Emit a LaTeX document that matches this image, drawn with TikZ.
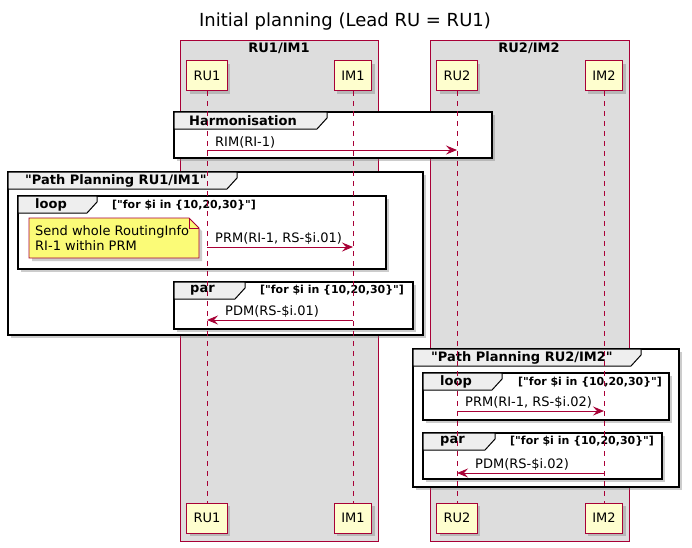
\documentclass[tikz,border=0pt]{standalone}
\usepackage{fontspec}
\setmainfont{DejaVu Sans}
\usetikzlibrary{shadows,arrows.meta}

\definecolor{umlred}{HTML}{A80036}
\definecolor{partfill}{HTML}{FEFECE}
\definecolor{boxfill}{HTML}{DDDDDD}
\definecolor{headfill}{HTML}{EEEEEE}
\definecolor{notefill}{HTML}{FBFB77}

\tikzset{
  shade3/.style={drop shadow={shadow xshift=3pt, shadow yshift=-3pt, opacity=.4}},
  part/.style={draw=umlred, fill=partfill, line width=1pt, minimum height=30pt,
    inner xsep=7pt, font=\fontsize{13}{15}\selectfont, shade3},
  umlbox/.style={draw=umlred, fill=boxfill, line width=.8pt},
  boxlabel/.style={font=\bfseries\fontsize{13}{15}\selectfont, inner sep=0pt},
  life/.style={draw=umlred, line width=.8pt, dash pattern=on 5pt off 5pt},
  msg/.style={draw=umlred, line width=1pt, -{Stealth[length=11pt,width=9pt,inset=4pt]}},
  msglabel/.style={font=\fontsize{13}{15}\selectfont, anchor=south west, inner xsep=0pt, inner ysep=2pt},
  frame/.style={draw=black, line width=1.6pt, fill=white, shade3},
  tab/.style={draw=black, line width=1pt, fill=headfill},
  grplabel/.style={font=\bfseries\fontsize{13}{15}\selectfont, anchor=west, inner sep=0pt},
  cond/.style={font=\bfseries\fontsize{11}{13}\selectfont, anchor=west, inner sep=0pt},
  note/.style={draw=umlred, fill=notefill, line width=.8pt, shade3},
}

\begin{document}
\begin{tikzpicture}[x=1pt,y=-1pt]
    \useasboundingbox (0,0) rectangle (692,547);
    % Title
    \node[font=\fontsize{18}{21}\selectfont] (title) at (345,22) {Initial planning (Lead RU = RU1)};
    % Boxes
    \draw[umlbox] (180,40) rectangle (378,541);
    \node[boxlabel] (box1) at (279,48) {RU1/IM1};
    \draw[umlbox] (430,40) rectangle (629,541);
    \node[boxlabel] (box2) at (529,48) {RU2/IM2};
    % Participants
    \node[part] (ru1top) at (207,75.5) {RU1};
    \node[part] (im1top) at (353,75.5) {IM1};
    \node[part] (ru2top) at (457,75.5) {RU2};
    \node[part] (im2top) at (604,75.5) {IM2};
    \node[part] (ru1bot) at (207,518) {RU1};
    \node[part] (im1bot) at (353,518) {IM1};
    \node[part] (ru2bot) at (457,518) {RU2};
    \node[part] (im2bot) at (604,518) {IM2};
    % Group: Harmonisation
    \draw[frame] (174,112) rectangle (492,158);
    \draw[tab] (174,112) -- (327,112) -- (327,118) -- (317,129) -- (174,129) -- cycle;
    \node[grplabel] (harm) at (189,120.5) {Harmonisation};
    % Group: Path Planning RU1/IM1
    \draw[frame] (8,172) rectangle (423,335);
    \draw[tab] (8,172) -- (237,172) -- (237,178) -- (227,189) -- (8,189) -- cycle;
    \node[grplabel] (pp1) at (25,180.5) {\textquotedbl Path Planning RU1/IM1\textquotedbl};
    % loop
    \draw[frame] (18,196) rectangle (386,269);
    \draw[tab] (18,196) -- (97,196) -- (97,202) -- (87,213) -- (18,213) -- cycle;
    \node[grplabel] (loop1) at (35,204.5) {loop};
    \node[cond] (cond1) at (112,205) {[\textquotedbl for \$i in \{10,20,30\}\textquotedbl]};
    % par
    \draw[frame] (174,282) rectangle (413,329);
    \draw[tab] (174,282) -- (245,282) -- (245,288) -- (235,299) -- (174,299) -- cycle;
    \node[grplabel] (par1) at (190,290.5) {par};
    \node[cond] (cond2) at (260,290) {[\textquotedbl for \$i in \{10,20,30\}\textquotedbl]};
    % Group: Path Planning RU2/IM2
    \draw[frame] (413,349) rectangle (679,487);
    \draw[tab] (413,349) -- (641,349) -- (641,355) -- (631,366) -- (413,366) -- cycle;
    \node[grplabel] (pp2) at (431,357.5) {\textquotedbl Path Planning RU2/IM2\textquotedbl};
    % loop
    \draw[frame] (423,373) rectangle (669,420);
    \draw[tab] (423,373) -- (502,373) -- (502,379) -- (492,390) -- (423,390) -- cycle;
    \node[grplabel] (loop2) at (440,381.5) {loop};
    \node[cond] (cond3) at (518,382) {[\textquotedbl for \$i in \{10,20,30\}\textquotedbl]};
    % par
    \draw[frame] (423,433) rectangle (662,479);
    \draw[tab] (423,433) -- (495,433) -- (495,439) -- (485,450) -- (423,450) -- cycle;
    \node[grplabel] (par2) at (440,441.5) {par};
    \node[cond] (cond4) at (510,441) {[\textquotedbl for \$i in \{10,20,30\}\textquotedbl]};
    % Lifelines
    \draw[life] (ru1top) -- (ru1bot);
    \draw[life] (im1top) -- (im1bot);
    \draw[life] (ru2top) -- (ru2bot);
    \draw[life] (im2top) -- (im2bot);
    % Note
    \draw[note] (29,218) -- (189,218) -- (199,228) -- (199,258) -- (29,258) -- cycle;
    \draw[umlred, line width=.8pt] (189,218) -- (189,228) -- (199,228);
    \node[font=\fontsize{13}{15}\selectfont, align=left, anchor=north west, inner sep=0pt]
      (sendnote) at (35,225) {Send whole RoutingInfo\\RI-1 within PRM};
    % Messages
    \coordinate (rim-a) at (ru1top |- 0,150);
    \coordinate (rim-b) at (ru2top |- 0,150);
    \draw[msg] (rim-a) -- (rim-b);
    \node[msglabel] (rim) at ([xshift=8pt]rim-a) {RIM(RI-1)};
    \coordinate (prm1-a) at (ru1top |- 0,247);
    \coordinate (prm1-b) at (im1top |- 0,247);
    \draw[msg] (prm1-a) -- (prm1-b);
    \node[msglabel] (prm1) at ([xshift=8pt]prm1-a) {PRM(RI-1, RS-\$i.01)};
    \coordinate (pdm1-a) at (im1top |- 0,320);
    \coordinate (pdm1-b) at (ru1top |- 0,320);
    \draw[msg] (pdm1-a) -- (pdm1-b);
    \node[msglabel] (pdm1) at ([xshift=18pt]pdm1-b) {PDM(RS-\$i.01)};
    \coordinate (prm2-a) at (ru2top |- 0,411);
    \coordinate (prm2-b) at (im2top |- 0,411);
    \draw[msg] (prm2-a) -- (prm2-b);
    \node[msglabel] (prm2) at ([xshift=8pt]prm2-a) {PRM(RI-1, RS-\$i.02)};
    \coordinate (pdm2-a) at (im2top |- 0,473);
    \coordinate (pdm2-b) at (ru2top |- 0,473);
    \draw[msg] (pdm2-a) -- (pdm2-b);
    \node[msglabel] (pdm2) at ([xshift=18pt]pdm2-b) {PDM(RS-\$i.02)};
\end{tikzpicture}
\end{document}
